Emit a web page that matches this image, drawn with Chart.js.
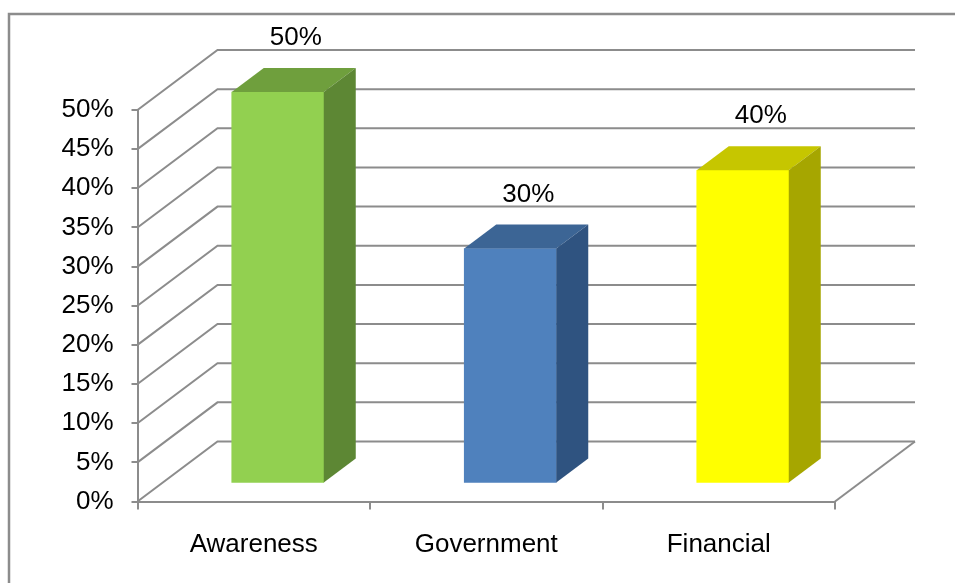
<!DOCTYPE html>
<html>
<head>
<meta charset="utf-8">
<script src="https://cdn.jsdelivr.net/npm/chart.js@4/dist/chart.umd.min.js"></script>
<style>
  html, body { margin: 0; padding: 0; background: #fff; overflow: hidden; }
  canvas { display: block; }
</style>
</head>
<body>
<canvas id="chart" width="955" height="583"></canvas>
<script>
// Survey share per category (percent)
const categories = ['Awareness', 'Government', 'Financial'];
const shares = [50, 30, 40];
const yTickLabels = ['0%', '5%', '10%', '15%', '20%', '25%', '30%', '35%', '40%', '45%', '50%'];

// Face colours of each box: front, top, right side
const frontColors = ['#92D050', '#4F81BD', '#FFFF00'];
const topColors = ['#6F9F3D', '#3C6595', '#C6C600'];
const sideColors = ['#5D8734', '#2F5380', '#A6A600'];

const GRID = '#8C8C8C';
const FONT = '"Liberation Sans", Arial, sans-serif';

// Perspective offsets of the pseudo-3D box
const WALL = { dx: 80, dy: -60 };       // front plane -> back wall
const BAR_SHIFT = { dx: 24, dy: -18 };  // front plane -> bar front face
const BAR_DEPTH = { dx: 32, dy: -24 };  // bar front face -> bar back face

const box3d = {
  id: 'box3d',
  beforeDraw(chart) {
    const { ctx } = chart;
    ctx.save();
    ctx.fillStyle = '#fff';
    ctx.fillRect(0, 0, chart.width, chart.height);
    ctx.strokeStyle = GRID;
    ctx.lineWidth = 2.5;
    ctx.strokeRect(9, 14, chart.width + 40, chart.height + 40);
    ctx.restore();
  },
  beforeDatasetsDraw(chart) {
    const { ctx, chartArea: a, scales: { y } } = chart;
    ctx.save();
    ctx.strokeStyle = GRID;
    ctx.lineWidth = 2;
    // side wall diagonals and back wall gridlines
    y.ticks.forEach(t => {
      const py = y.getPixelForValue(t.value);
      ctx.beginPath();
      ctx.moveTo(a.left, py);
      ctx.lineTo(a.left + WALL.dx, py + WALL.dy);
      ctx.lineTo(a.right + WALL.dx, py + WALL.dy);
      ctx.stroke();
    });
    // right edge of the floor
    ctx.beginPath();
    ctx.moveTo(a.right, a.bottom);
    ctx.lineTo(a.right + WALL.dx, a.bottom + WALL.dy);
    ctx.stroke();
    ctx.restore();
    // bar front faces sit part-way into the box
    ctx.save();
    ctx.translate(BAR_SHIFT.dx, BAR_SHIFT.dy);
  },
  afterDatasetsDraw(chart) {
    const { ctx } = chart;
    ctx.restore();
    const meta = chart.getDatasetMeta(0);
    meta.data.forEach((bar, i) => {
      const p = bar.getProps(['x', 'y', 'base', 'width'], true);
      const left = p.x - p.width / 2 + BAR_SHIFT.dx;
      const right = p.x + p.width / 2 + BAR_SHIFT.dx;
      const top = p.y + BAR_SHIFT.dy;
      const bottom = p.base + BAR_SHIFT.dy;
      const { dx, dy } = BAR_DEPTH;

      ctx.save();
      // top face
      ctx.fillStyle = topColors[i];
      ctx.beginPath();
      ctx.moveTo(left, top);
      ctx.lineTo(left + dx, top + dy);
      ctx.lineTo(right + dx, top + dy);
      ctx.lineTo(right, top);
      ctx.closePath();
      ctx.fill();
      // right side face
      ctx.fillStyle = sideColors[i];
      ctx.beginPath();
      ctx.moveTo(right, top);
      ctx.lineTo(right + dx, top + dy);
      ctx.lineTo(right + dx, bottom + dy);
      ctx.lineTo(right, bottom);
      ctx.closePath();
      ctx.fill();

      // value label above the box
      ctx.fillStyle = '#000';
      ctx.font = '26px ' + FONT;
      ctx.textAlign = 'center';
      ctx.textBaseline = 'middle';
      ctx.fillText(shares[i] + '%', (left + right + dx) / 2 + 2, top + dy - 30);
      ctx.restore();
    });
  }
};

new Chart(document.getElementById('chart'), {
  type: 'bar',
  data: {
    labels: categories,
    datasets: [{
      data: shares,
      backgroundColor: frontColors,
      borderWidth: 0,
      barThickness: 92,
      clip: false
    }]
  },
  options: {
    responsive: false,
    devicePixelRatio: 1,
    animation: false,
    layout: { padding: { top: 110, right: 120, left: 0, bottom: 0 } },
    plugins: { legend: { display: false }, tooltip: { enabled: false } },
    scales: {
      x: {
        offset: true,
        grid: { display: true, drawOnChartArea: false, drawTicks: true, tickLength: 8, color: GRID, lineWidth: 2, offset: true },
        border: { display: true, color: GRID, width: 2 },
        ticks: { color: '#000', font: { family: FONT, size: 26 }, padding: 20, maxRotation: 0 },
        afterFit(s) { s.height = 81.5; }
      },
      y: {
        min: 0,
        max: 50,
        grid: { display: true, drawOnChartArea: false, drawTicks: true, tickLength: 6, color: GRID, lineWidth: 2 },
        border: { display: true, color: GRID, width: 2 },
        ticks: {
          stepSize: 5,
          color: '#000',
          font: { family: FONT, size: 26 },
          padding: 18,
          callback: (v, i) => yTickLabels[i]
        },
        afterFit(s) { s.width = 137.5; }
      }
    }
  },
  plugins: [box3d]
});
</script>
</body>
</html>
